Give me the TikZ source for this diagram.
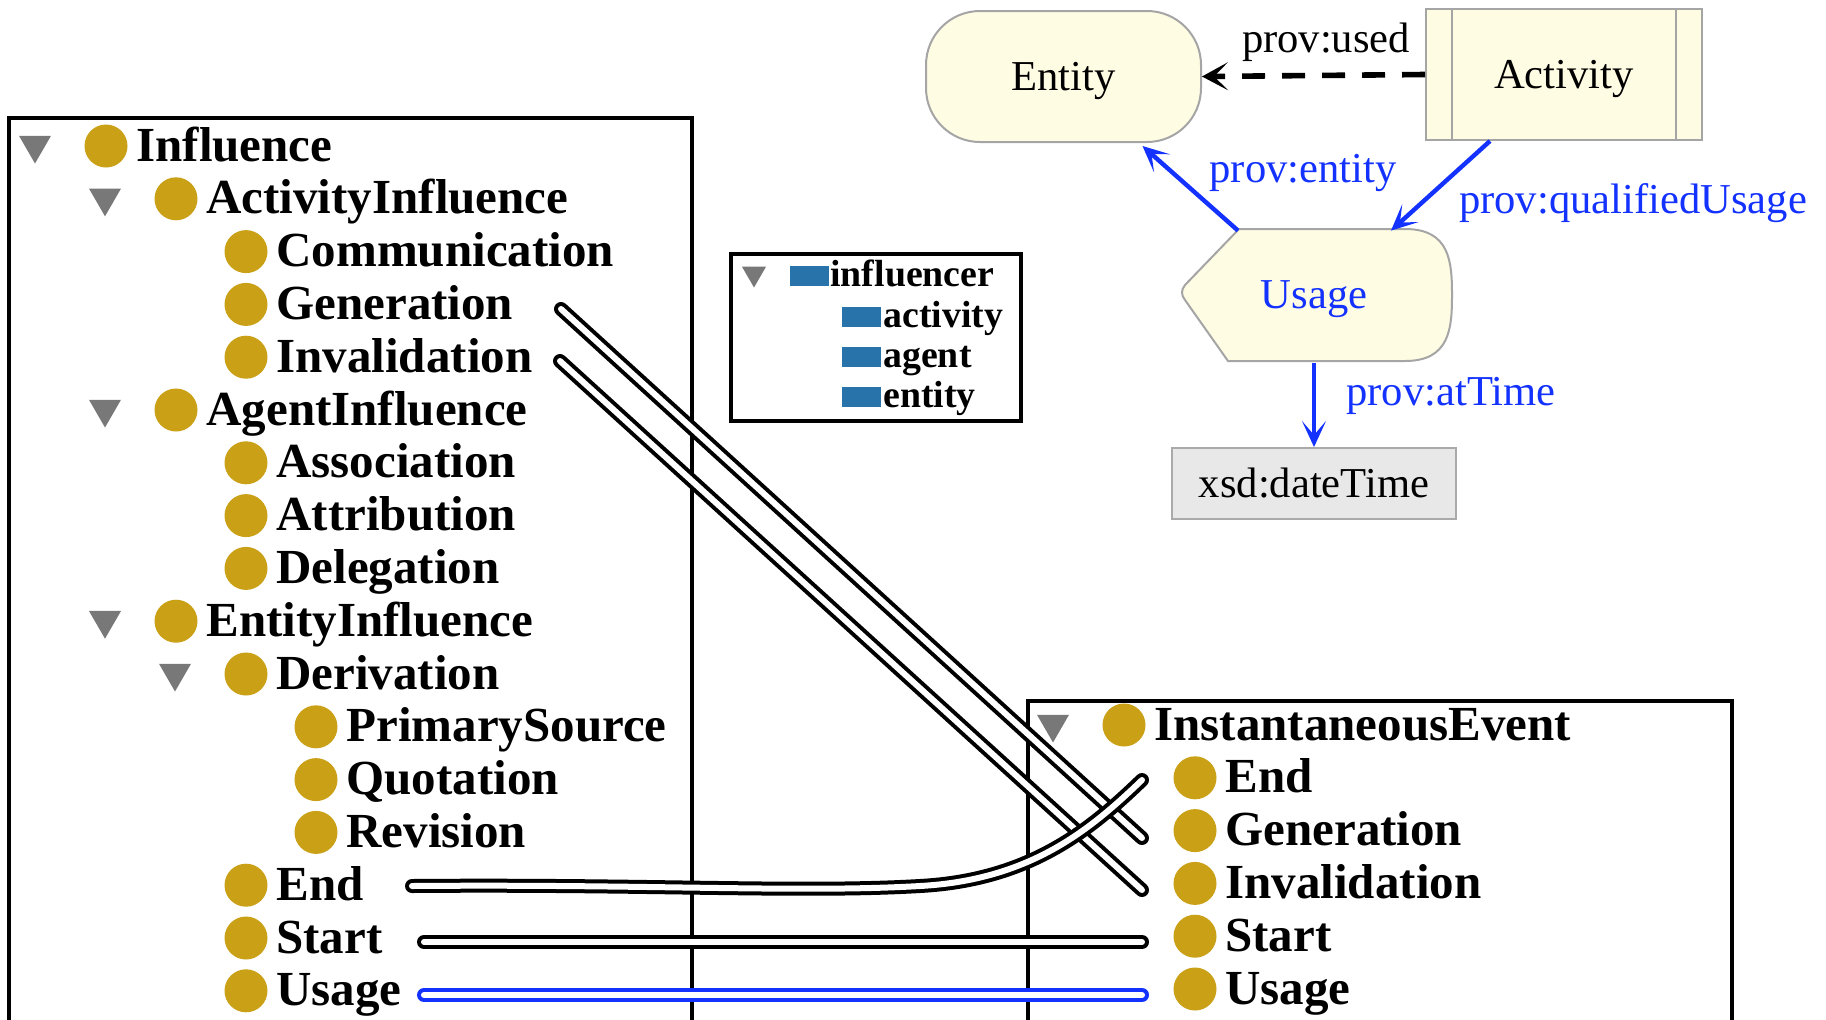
\documentclass[tikz,border=0pt]{standalone}
\usepackage{fontspec}
\setmainfont{Liberation Serif}
\usetikzlibrary{arrows.meta,shapes.geometric}
\definecolor{gold}{RGB}{202,160,22}
\definecolor{trigray}{RGB}{120,120,120}
\definecolor{nodefill}{RGB}{255,252,228}
\definecolor{nodeborder}{RGB}{165,165,165}
\definecolor{provblue}{RGB}{20,50,255}
\definecolor{rectblue}{RGB}{40,115,170}
\definecolor{xsdfill}{RGB}{232,232,232}
\definecolor{xsdborder}{RGB}{170,170,170}
\newcommand\tItem[4]{\node[gdot] (#1d) at (#2,#3) {}; \node[treetext] (#1) at ({#2+30},{#3+15}) {#4};}
\newcommand\tTri[3]{\node[tritip] (#1) at (#2,{#3-1}) {};}
\begin{document}
\begin{tikzpicture}[x=0.5pt,y=-0.5pt,
  gdot/.style={circle,fill=gold,minimum size=21.5pt,inner sep=0pt},
  tritip/.style={regular polygon,regular polygon sides=3,shape border rotate=180,fill=trigray,minimum size=18.5pt,inner sep=0pt},
  treetext/.style={anchor=base west,inner sep=0pt,font=\fontsize{24.5pt}{28pt}\selectfont\bfseries},
  smalltext/.style={anchor=base west,inner sep=0pt,font=\fontsize{18.9pt}{22pt}\selectfont\bfseries},
  brect/.style={rectangle,fill=rectblue,minimum width=19.5pt,minimum height=10pt,inner sep=0pt},
  frame/.style={draw=black,line width=1.7pt},
  shapebox/.style={draw=nodeborder,fill=nodefill,line width=1pt,text height=15pt,text depth=1.5pt,inner sep=0pt,font=\fontsize{21.3pt}{25pt}\selectfont},
  lbl/.style={anchor=base,inner sep=0pt,font=\fontsize{21.3pt}{25pt}\selectfont},
  bluearrow/.style={draw=provblue,line width=2.2pt,-{Stealth[length=13pt,width=12pt,inset=7pt]}},
  usedarrow/.style={draw=black,line width=2.8pt,dash pattern=on 11.5pt off 8.5pt,-{Stealth[length=13pt,width=14pt,inset=7pt]}},
  tube/.style={draw=black,line width=2pt,double=white,double distance=3pt,line cap=round},
  bluetube/.style={tube,draw=provblue}
]
\fill[white] (0,0) rectangle (1826,1019);
\useasboundingbox (0,0) rectangle (1826,1019);

% left tree frame
\draw[frame] (9,1040) -- (9,118) -- (692,118) -- (692,1040);
\tTri{tInfl}{35}{146}
\tTri{tActInf}{105}{198.8}
\tTri{tAgInf}{105}{410}
\tTri{tEntInf}{105}{621.2}
\tTri{tDeriv}{175}{674}
\tItem{nInfl}{106}{146}{Influence}
\tItem{nActInf}{176}{198.8}{ActivityInfluence}
\tItem{nComm}{246}{251.6}{Communication}
\tItem{nGenL}{246}{304.4}{Generation}
\tItem{nInvL}{246}{357.2}{Invalidation}
\tItem{nAgInf}{176}{410}{AgentInfluence}
\tItem{nAssoc}{246}{462.8}{Association}
\tItem{nAttr}{246}{515.6}{Attribution}
\tItem{nDeleg}{246}{568.4}{Delegation}
\tItem{nEntInf}{176}{621.2}{EntityInfluence}
\tItem{nDeriv}{246}{674}{Derivation}
\tItem{nPrim}{316}{726.8}{PrimarySource}
\tItem{nQuot}{316}{779.6}{Quotation}
\tItem{nRev}{316}{832.4}{Revision}
\tItem{nEndL}{246}{885.2}{End}
\tItem{nStartL}{246}{938}{Start}
\tItem{nUsageL}{246}{990.8}{Usage}

% right tree frame
\draw[frame] (1028,1040) -- (1028,701) -- (1732,701) -- (1732,1040);
\tTri{tInst}{1053}{725}
\tItem{nInst}{1124}{725}{InstantaneousEvent}
\tItem{nEndR}{1195}{777.8}{End}
\tItem{nGenR}{1195}{830.6}{Generation}
\tItem{nInvR}{1195}{883.4}{Invalidation}
\tItem{nStartR}{1195}{936.2}{Start}
\tItem{nUsageR}{1195}{989}{Usage}

% influencer box
\node[frame,draw,minimum width=145pt,minimum height=83.5pt,inner sep=0pt] (infbox) at (876,337.5) {};
\node[tritip,minimum size=14pt] (sTri) at (754,273.5) {};
\node[brect] (sR1) at (809.5,276) {};
\node[smalltext] (sInf) at (830,286) {influencer};
\node[brect] (sR2) at (861.5,317) {};
\node[smalltext] (sAct) at (883,327) {activity};
\node[brect] (sR3) at (861.5,357) {};
\node[smalltext] (sAg) at (883,367) {agent};
\node[brect] (sR4) at (861.5,397) {};
\node[smalltext] (sEnt) at (883,407) {entity};

% top diagram
\node[shapebox,rounded corners=27pt,minimum width=137.5pt,minimum height=65.5pt] (ent) at (1063.5,76.5) {Entity};
\node[shapebox,minimum width=138pt,minimum height=65.5pt] (act) at (1564,74.5) {Activity};
\draw[draw=nodeborder,line width=1pt] ([xshift=13.5pt]act.north west) -- ([xshift=13.5pt]act.south west);
\draw[draw=nodeborder,line width=1pt] ([xshift=-13.5pt]act.north east) -- ([xshift=-13.5pt]act.south east);
\filldraw[fill=nodefill,draw=nodeborder,line width=1pt]
  (1239,229) -- (1405,229) .. controls (1450,229) and (1452,262) .. (1452,295)
  .. controls (1452,328) and (1450,361) .. (1405,361) -- (1228,361) -- (1185,300)
  .. controls (1181,295) and (1181,290) .. (1185,285) -- cycle;
\node[text=provblue,text height=15pt,text depth=4pt,inner sep=0pt,minimum height=66pt,font=\fontsize{21.3pt}{25pt}\selectfont] (us) at (1314,297) {Usage};
\node[draw=xsdborder,fill=xsdfill,line width=1pt,minimum width=142pt,minimum height=35.5pt,text height=15pt,text depth=1.5pt,inner sep=0pt,font=\fontsize{21.3pt}{25pt}\selectfont] (xsd) at (1314,483.5) {xsd:dateTime};

\draw[usedarrow] (act.west) -- (ent.east);
\draw[bluearrow] ([xshift=-38pt]us.north) -- ([xshift=39.5pt,yshift=-1.5pt]ent.south);
\draw[bluearrow] ([xshift=-37pt]act.south) -- ([xshift=38.5pt]us.north);
\draw[bluearrow] (us.south) -- (xsd.north);
\node[lbl] (lUsed) at (1326,52) {prov:used};
\node[lbl,text=provblue] (lEnt) at (1303,182) {prov:entity};
\node[lbl,text=provblue] (lQU) at (1633,213) {prov:qualifiedUsage};
\node[lbl,text=provblue] (lAt) at (1451,405) {prov:atTime};

% tubes
\coordinate (gA) at (561,309);  \coordinate (gB) at (1142,838);
\coordinate (iA) at (560,361);  \coordinate (iB) at (1142,890);
\coordinate (eA) at (412,886);  \coordinate (eB) at (1142,780);
\coordinate (sA) at (424,942);  \coordinate (sB) at (1142,942);
\coordinate (uA) at (424,995);  \coordinate (uB) at (1142,995);
\draw[tube] (gA) -- (gB);
\draw[tube] (iA) -- (iB);
\draw[tube] (eA) .. controls (650,884) and (800,893) .. (920,886) .. controls (1030,880) and (1090,830) .. (eB);
\draw[tube] (sA) -- (sB);
\draw[bluetube] (uA) -- (uB);
\end{tikzpicture}
\end{document}
